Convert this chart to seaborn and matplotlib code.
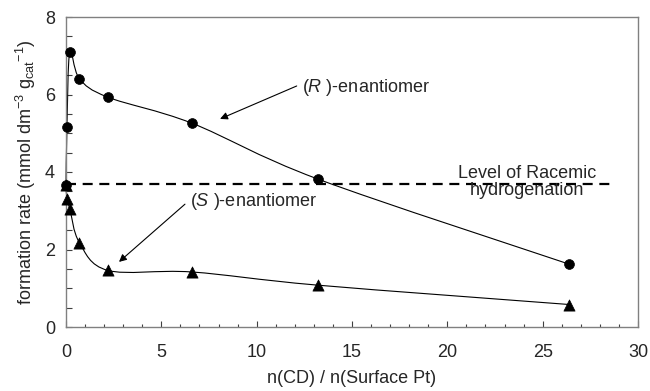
import numpy as np
import matplotlib
matplotlib.use("Agg")
import matplotlib.pyplot as plt
from matplotlib.path import Path
from matplotlib.patches import PathPatch
from matplotlib.ticker import MultipleLocator
import seaborn as sns

# ---- data ----
ratio = [0, 0.05, 0.2, 0.7, 2.2, 6.6, 13.2, 26.4]
rate_R = [3.66, 5.16, 7.10, 6.41, 5.93, 5.26, 3.82, 1.62]
rate_S = [3.66, 3.30, 3.05, 2.18, 1.46, 1.42, 1.08, 0.58]
racemic_x = [0, 28.8]
racemic_level = [3.68, 3.68]

sns.set_style("ticks")
plt.rcParams["font.family"] = ["Liberation Sans", "DejaVu Sans"]
plt.rcParams["mathtext.fontset"] = "custom"
plt.rcParams["mathtext.rm"] = "Liberation Sans"
plt.rcParams["mathtext.it"] = "Liberation Sans:italic"
plt.rcParams["mathtext.bf"] = "Liberation Sans:bold"

FS = 13

fig = plt.figure(figsize=(6.5, 3.91), dpi=100)
ax = fig.add_axes([66 / 650, 1 - 327 / 391, (638 - 66) / 650, (327 - 17) / 391])


def smooth_path(x, y):
    pts = np.column_stack([x, y]).astype(float)
    n = len(pts)
    verts = [pts[0]]
    codes = [Path.MOVETO]
    for i in range(n - 1):
        p0 = pts[i - 1] if i > 0 else pts[i]
        p1 = pts[i]
        p2 = pts[i + 1]
        p3 = pts[i + 2] if i + 2 < n else pts[i + 1]
        c1 = p1 + (p2 - p0) / 6.0
        c2 = p2 - (p3 - p1) / 6.0
        verts += [c1, c2, p2]
        codes += [Path.CURVE4] * 3
    return Path(verts, codes)


for ys in (rate_S, rate_R):
    ax.add_patch(PathPatch(smooth_path(ratio, ys), facecolor="none",
                           edgecolor="black", lw=0.8, zorder=2, clip_on=False))

sns.lineplot(x=racemic_x, y=racemic_level, ax=ax, color="black", lw=1.6,
             dashes=False, linestyle=(0, (4.5, 3)), zorder=2)

sns.scatterplot(x=ratio, y=rate_S, ax=ax, marker="^", s=65, color="black",
                edgecolor="black", linewidth=0.5, zorder=3, clip_on=False)
sns.scatterplot(x=ratio, y=rate_R, ax=ax, marker="o", s=50, color="black",
                edgecolor="black", linewidth=0.5, zorder=4, clip_on=False)

ax.set_xlim(0, 30)
ax.set_ylim(0, 8)
ax.xaxis.set_major_locator(MultipleLocator(5))
ax.xaxis.set_minor_locator(MultipleLocator(1))
ax.yaxis.set_major_locator(MultipleLocator(2))
ax.yaxis.set_minor_locator(MultipleLocator(0.5))
ax.tick_params(axis="x", which="both", direction="in", labelsize=FS, pad=12,
               color="#404040")
ax.tick_params(axis="x", which="major", length=4, width=0.8)
ax.tick_params(axis="x", which="minor", length=2.5, width=0.8)
ax.tick_params(axis="y", which="both", direction="in", labelsize=FS, pad=8,
               length=4, width=0.8, color="#404040")
for side in ("top", "right", "left", "bottom"):
    ax.spines[side].set_visible(True)
    ax.spines[side].set_color("#808080")
    ax.spines[side].set_linewidth(1.0)

ax.set_xlabel("n(CD) / n(Surface Pt)", fontsize=FS, labelpad=7)
ax.set_ylabel(r"formation rate (mmol dm$^{-3}$ g$_{\rm cat}$$^{-1}$)",
              fontsize=FS, labelpad=5)

# annotations
ax.text(12.38, 6.19, r"($\mathit{R}$ )-enantiomer", fontsize=FS,
        ha="left", va="center")
ax.annotate("", xy=(8.08, 5.37), xytext=(12.1, 6.22),
            arrowprops=dict(arrowstyle="-|>", color="black", lw=0.8,
                            mutation_scale=11, shrinkA=0, shrinkB=0))
ax.text(6.5, 3.23, r"($\mathit{S}$ )-enantiomer", fontsize=FS,
        ha="left", va="center")
ax.annotate("", xy=(2.78, 1.68), xytext=(6.24, 3.17),
            arrowprops=dict(arrowstyle="-|>", color="black", lw=0.8,
                            mutation_scale=11, shrinkA=0, shrinkB=0))
ax.text(24.17, 3.74, "Level of Racemic\nhydrogenation", fontsize=FS,
        ha="center", va="center", multialignment="center", linespacing=1.0)

fig.savefig("out.png", dpi=100)
